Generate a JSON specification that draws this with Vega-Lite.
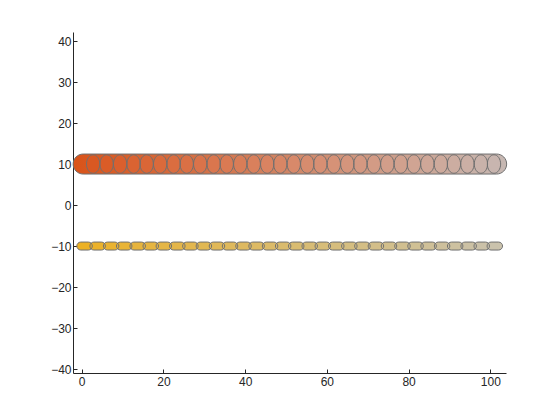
{
  "$schema": "https://vega.github.io/schema/vega-lite/v6.json",
  "width": 433,
  "height": 341,
  "autosize": "none",
  "padding": {"left": 73, "top": 32, "right": 54, "bottom": 47},
  "background": "white",
  "config": {
    "view": {"stroke": null},
    "axis": {
      "domainColor": "#262626",
      "tickColor": "#262626",
      "labelColor": "#262626",
      "labelFont": "Liberation Sans",
      "labelFontSize": 12,
      "grid": false,
      "tickSize": -4,
      "title": null,
      "domainWidth": 1,
      "tickWidth": 1
    }
  },
  "datasets": {
    "bands": [{"row": "upper", "x": -2.1, "x2": 104.0, "y": 10}],
    "upper": [
      {"x": 2.8, "y": 10}, {"x": 6.1, "y": 10}, {"x": 9.4, "y": 10}, {"x": 12.7, "y": 10},
      {"x": 15.9, "y": 10}, {"x": 19.2, "y": 10}, {"x": 22.5, "y": 10}, {"x": 25.7, "y": 10},
      {"x": 29.0, "y": 10}, {"x": 32.3, "y": 10}, {"x": 35.5, "y": 10}, {"x": 38.8, "y": 10},
      {"x": 42.1, "y": 10}, {"x": 45.4, "y": 10}, {"x": 48.6, "y": 10}, {"x": 51.9, "y": 10},
      {"x": 55.2, "y": 10}, {"x": 58.4, "y": 10}, {"x": 61.7, "y": 10}, {"x": 65.0, "y": 10},
      {"x": 68.2, "y": 10}, {"x": 71.5, "y": 10}, {"x": 74.8, "y": 10}, {"x": 78.1, "y": 10},
      {"x": 81.3, "y": 10}, {"x": 84.6, "y": 10}, {"x": 87.9, "y": 10}, {"x": 91.1, "y": 10},
      {"x": 94.4, "y": 10}, {"x": 97.7, "y": 10}, {"x": 100.9, "y": 10}
    ],
    "lower": [
      {"x": 0.7, "y": -10}, {"x": 3.9, "y": -10}, {"x": 7.2, "y": -10}, {"x": 10.4, "y": -10},
      {"x": 13.7, "y": -10}, {"x": 16.9, "y": -10}, {"x": 20.1, "y": -10}, {"x": 23.4, "y": -10},
      {"x": 26.6, "y": -10}, {"x": 29.9, "y": -10}, {"x": 33.1, "y": -10}, {"x": 36.3, "y": -10},
      {"x": 39.6, "y": -10}, {"x": 42.8, "y": -10}, {"x": 46.1, "y": -10}, {"x": 49.3, "y": -10},
      {"x": 52.5, "y": -10}, {"x": 55.8, "y": -10}, {"x": 59.0, "y": -10}, {"x": 62.3, "y": -10},
      {"x": 65.5, "y": -10}, {"x": 68.7, "y": -10}, {"x": 72.0, "y": -10}, {"x": 75.2, "y": -10},
      {"x": 78.5, "y": -10}, {"x": 81.7, "y": -10}, {"x": 84.9, "y": -10}, {"x": 88.2, "y": -10},
      {"x": 91.4, "y": -10}, {"x": 94.7, "y": -10}, {"x": 97.9, "y": -10}, {"x": 101.1, "y": -10}
    ]
  },
  "encoding": {
    "x": {
      "field": "x", "type": "quantitative",
      "scale": {"domain": [-2.13, 103.84], "nice": false, "zero": false, "padding": 0},
      "axis": {"values": [0, 20, 40, 60, 80, 100], "labelPadding": 7}
    },
    "y": {
      "field": "y", "type": "quantitative",
      "scale": {"domain": [-40.96, 42.2], "nice": false, "zero": false, "padding": 0},
      "axis": {"values": [-40, -30, -20, -10, 0, 10, 20, 30, 40], "labelPadding": 6}
    }
  },
  "layer": [
    {
      "data": {"name": "bands"},
      "mark": {
        "type": "bar",
        "height": 20,
        "cornerRadius": 10,
        "stroke": "#707070",
        "strokeWidth": 1,
        "color": {
          "gradient": "linear", "x1": 0, "y1": 0, "x2": 1, "y2": 0,
          "stops": [{"offset": 0, "color": "#D95319"}, {"offset": 1, "color": "#C6B8B3"}]
        }
      },
      "encoding": {"x2": {"field": "x2"}}
    },
    {
      "data": {"name": "upper"},
      "mark": {
        "type": "point", "filled": true, "opacity": 1, "size": 342,
        "shape": "M -0.72 0 C -0.72 -0.5523 -0.3977 -1 0 -1 C 0.3977 -1 0.72 -0.5523 0.72 0 C 0.72 0.5523 0.3977 1 0 1 C -0.3977 1 -0.72 0.5523 -0.72 0 Z"
      },
      "encoding": {
        "color": {
          "field": "x", "type": "quantitative", "legend": null,
          "scale": {"domain": [-2.1, 104], "range": ["#D95319", "#C6B8B3"]}
        }
      }
    },
    {
      "data": {"name": "upper"},
      "mark": {
        "type": "point", "filled": false, "opacity": 1, "size": 342,
        "stroke": "#707070", "strokeWidth": 1,
        "shape": "M -0.72 0 C -0.72 -0.5523 -0.3977 -1 0 -1 C 0.3977 -1 0.72 -0.5523 0.72 0 C 0.72 0.5523 0.3977 1 0 1 C -0.3977 1 -0.72 0.5523 -0.72 0 Z"
      }
    },
    {
      "data": {"name": "lower"},
      "mark": {
        "type": "point", "filled": true, "opacity": 1, "size": 240,
        "shape": "M -0.484 -0.516 L 0.484 -0.516 C 0.769 -0.516 1 -0.285 1 0 C 1 0.285 0.769 0.516 0.484 0.516 L -0.484 0.516 C -0.769 0.516 -1 0.285 -1 0 C -1 -0.285 -0.769 -0.516 -0.484 -0.516 Z"
      },
      "encoding": {
        "color": {
          "field": "x", "type": "quantitative", "legend": null,
          "scale": {"domain": [-1, 103], "range": ["#EDB120", "#C9C2AE"]}
        }
      }
    },
    {
      "data": {"name": "lower"},
      "mark": {
        "type": "point", "filled": false, "opacity": 1, "size": 240,
        "stroke": "#707070", "strokeWidth": 1,
        "shape": "M -0.484 -0.516 L 0.484 -0.516 C 0.769 -0.516 1 -0.285 1 0 C 1 0.285 0.769 0.516 0.484 0.516 L -0.484 0.516 C -0.769 0.516 -1 0.285 -1 0 C -1 -0.285 -0.769 -0.516 -0.484 -0.516 Z"
      }
    }
  ],
  "resolve": {"scale": {"color": "independent"}}
}
